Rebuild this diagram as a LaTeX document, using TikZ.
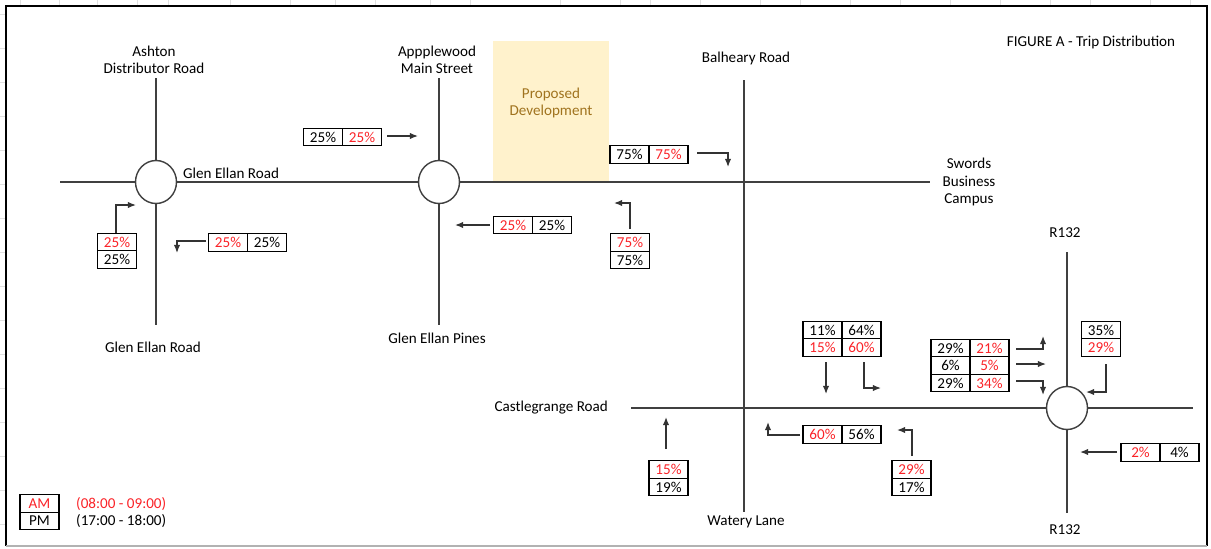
\documentclass[tikz,border=0pt]{standalone}
\usepackage{fontspec}
\setmainfont{Carlito}
\usetikzlibrary{%
  arrows.meta,%
  positioning,%
  shapes.geometric%
}
\tikzset{>={Latex[length=4.6pt,width=3.6pt]}}
\definecolor{amred}{RGB}{250,35,40}
\definecolor{devfill}{RGB}{255,242,204}
\definecolor{devtext}{RGB}{160,115,30}
\tikzset{
  road/.style={line width=0.8pt,black!75},
  rbt/.style={draw=black!75,line width=0.8pt,fill=white,ellipse,
    minimum width=0.82cm,minimum height=0.86cm},
  cell/.style={draw,line width=0.6pt,minimum width=0.78cm,minimum height=0.35cm,
    inner sep=0pt,outer sep=0pt},
  amcell/.style={cell,text=amred},
  flow/.style={->,line width=0.7pt,draw=black!80}
}

\begin{document}
\begin{tikzpicture}[x=0.02cm,y=-0.02cm,font=\fontsize{8.6}{9.9}\selectfont]
        \useasboundingbox (0,0) rectangle (1211,548);
        % sheet grid round the frame
        \foreach \gx in {20,59,97,137,168,230,290,335,375,430,470,560,
          620,650,700,760,800,850,900,950,1000,1050,1090,1150,1190}
          \draw[black!12] (\gx,0) -- (\gx,6);
        \foreach \gy in {14,48,82,116,150,184,218,252,286,320,354,388,
          422,456,490,524}
          \draw[black!12] (0,\gy) -- (6,\gy);
        \draw[line width=1.2pt] (6,546) -- (6,6) -- (1207,6) -- (1207,546);
        \draw[black!30,line width=0.8pt] (6,546) -- (1207,546);
        % development site
        \fill[devfill] (493,41) rectangle (609,182);
        \node[text=devtext,align=center] (devlbl) at (551,103)
          {Proposed\\Development};
        % roads
        \node[rbt] (ash) at (156,182) {};
        \node[rbt] (app) at (439,182) {};
        \node[rbt] (rbtr) at (1067,408) {};
        \coordinate (ashN) at (156,78);
        \coordinate (ashS) at (156,325);
        \coordinate (appN) at (439,78);
        \coordinate (appS) at (439,325);
        \coordinate (glW) at (60,182);
        \coordinate (sbcE) at (930,182);
        \coordinate (balN) at (744,80);
        \coordinate (balS) at (744,512);
        \coordinate (cgW) at (631,408);
        \coordinate (cgE) at (1193,408);
        \coordinate (rN) at (1067,252);
        \coordinate (rS) at (1067,513);
        \draw[road] (glW) -- (ash) -- (app) -- (sbcE);
        \draw[road] (ashN) -- (ash) -- (ashS);
        \draw[road] (appN) -- (app) -- (appS);
        \draw[road] (balN) -- (balS);
        \draw[road] (cgW) -- (rbtr) -- (cgE);
        \draw[road] (rN) -- (rbtr) -- (rS);
        % road names
        \node[align=center] (ashlbl) at (154,60) {Ashton\\Distributor Road};
        \node[align=center] (applbl) at (437,60) {Appplewood\\Main Street};
        \node[right] (gerlbl) at (177,173) {Glen Ellan Road};
        \node (gerslbl) at (153,347) {Glen Ellan Road};
        \node (geplbl) at (437,338) {Glen Ellan Pines};
        \node (ballbl) at (746,58) {Balheary Road};
        \node[align=center] (sbclbl) at (969,182) {Swords\\Business\\Campus};
        \node (figlbl) at (1091,42) {FIGURE A - Trip Distribution};
        \node (rnlbl) at (1065,233) {R132};
        \node (rslbl) at (1065,530) {R132};
        \node[left] (cglbl) at (614,408) {Castlegrange Road};
        \node (wllbl) at (746,522) {Watery Lane};
        % flows, Glen Ellan Road
        \node[cell] (aa) at (323,137) {25\%};
        \node[amcell,right=0pt of aa] (ab) {25\%};
        \draw[flow] (387,136) -- (418,136);
        \node[cell] (ba) at (629.5,154.5) {75\%};
        \node[amcell,right=0pt of ba] (bb) {75\%};
        \draw[flow] (697,153) -| (728,167);
        \node[amcell] (ca) at (117,242) {25\%};
        \node[cell,below=0pt of ca] (cb) {25\%};
        \draw[flow] (116,233) |- (136,205);
        \node[amcell] (da) at (228,242.5) {25\%};
        \node[cell,right=0pt of da] (db) {25\%};
        \draw[flow] (206,241) -| (177,253);
        \node[amcell] (ea) at (513,225) {25\%};
        \node[cell,right=0pt of ea] (eb) {25\%};
        \draw[flow] (490,225) -- (455,225);
        \node[amcell] (fa) at (630,242.5) {75\%};
        \node[cell,below=0pt of fa] (fb) {75\%};
        \draw[flow] (630,229) |- (614,203);
        % flows, Castlegrange Road
        \node[cell] (ga) at (822.5,330) {11\%};
        \node[cell,right=0pt of ga] (gb) {64\%};
        \node[amcell,below=0pt of ga] (gc) {15\%};
        \node[amcell,below=0pt of gb] (gd) {60\%};
        \draw[flow] (826,362) -- (826,394);
        \draw[flow] (864,362) |- (881,388);
        \node[cell] (ha) at (950.5,348) {29\%};
        \node[amcell,right=0pt of ha] (hb) {21\%};
        \node[cell,below=0pt of ha] (hc) {6\%};
        \node[amcell,below=0pt of hb] (hd) {5\%};
        \node[cell,below=0pt of hc] (he) {29\%};
        \node[amcell,below=0pt of hd] (hf) {34\%};
        \draw[flow] (1016,349) -| (1043,336);
        \draw[flow] (1016,364) -- (1046,364);
        \draw[flow] (1016,381) -| (1043,395);
        \node[cell] (ia) at (1101,330) {35\%};
        \node[amcell,below=0pt of ia] (ib) {29\%};
        \draw[flow] (1106,364) |- (1086,392);
        \node[amcell] (ja) at (822.5,434.5) {60\%};
        \node[cell,right=0pt of ja] (jb) {56\%};
        \draw[flow] (800,435) -| (768,422);
        \node[amcell] (ka) at (911.5,469.5) {29\%};
        \node[cell,below=0pt of ka] (kb) {17\%};
        \draw[flow] (912,456) |- (897,430);
        \node[amcell] (la) at (668.5,469.5) {15\%};
        \node[cell,below=0pt of la] (lb) {19\%};
        \draw[flow] (666,449) -- (666,417);
        \node[amcell] (ma) at (1140.5,452.5) {2\%};
        \node[cell,right=0pt of ma] (mb) {4\%};
        \draw[flow] (1117,452) -- (1080,452);
        % key
        \node[amcell] (keyam) at (39.5,503.5) {AM};
        \node[cell,below=0pt of keyam] (keypm) {PM};
        \node[right,text=amred] (amlbl) at (70,504) {(08:00 - 09:00)};
        \node[right] (pmlbl) at (70,521) {(17:00 - 18:00)};
      \end{tikzpicture}
\end{document}
